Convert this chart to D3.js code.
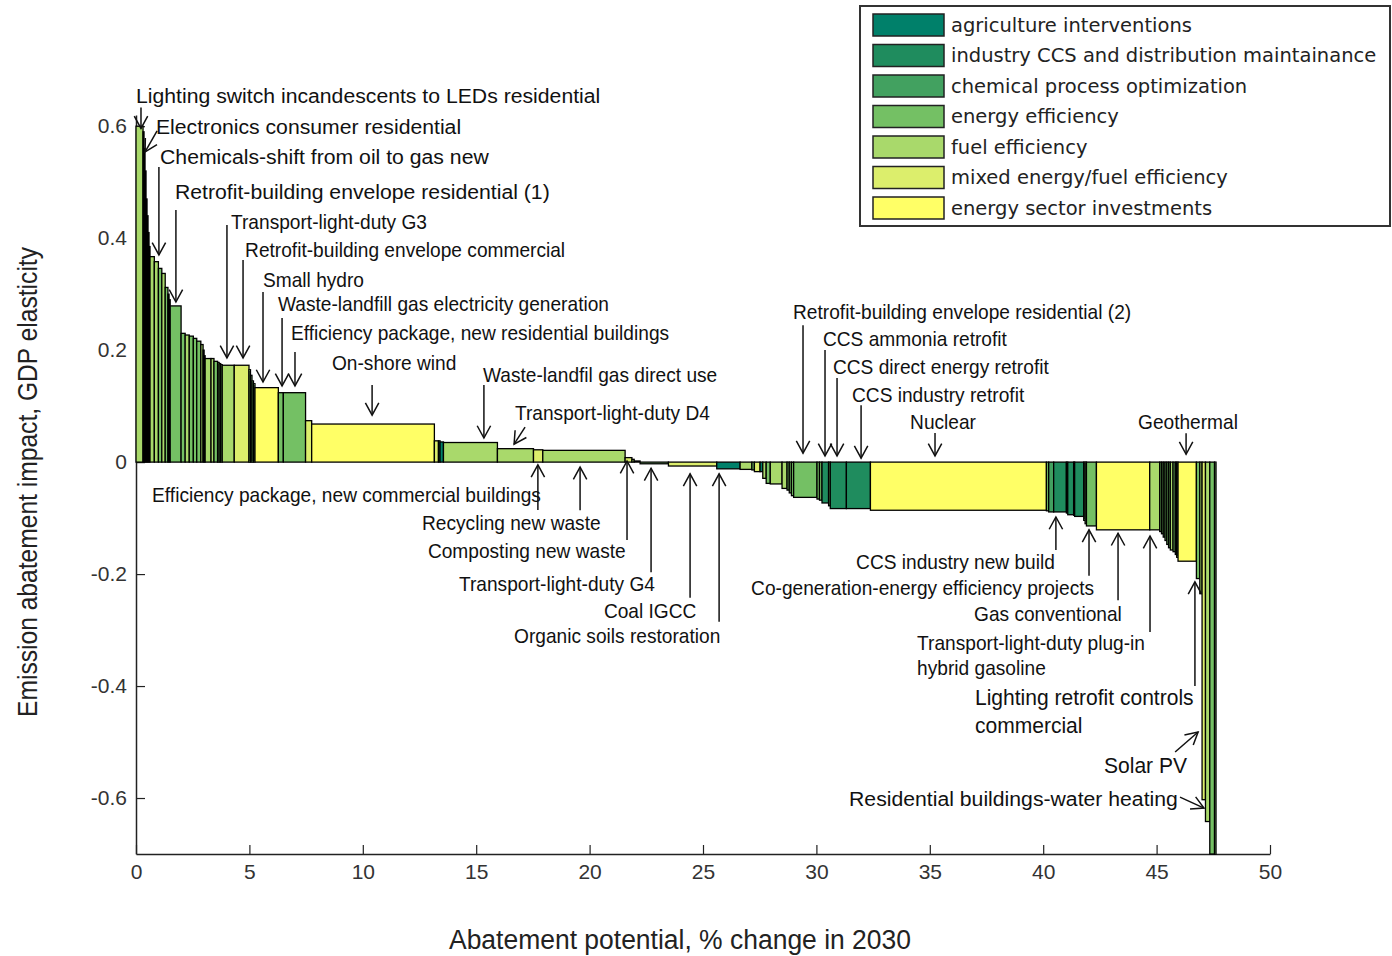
<!DOCTYPE html>
<html>
<head>
<meta charset="utf-8">
<script src="https://cdn.jsdelivr.net/npm/d3@7"></script>
<style>
  body { margin: 0; background: #fff; }
  svg { display: block; }
  .tick text { font-family: "Liberation Sans", Arial, sans-serif; font-size: 21px; fill: #333; }
  .note { font-family: "Liberation Sans", Arial, sans-serif; font-size: 20px; fill: #111; }
  .leg { font-family: "DejaVu Sans", sans-serif; font-size: 19.5px; fill: #222; }
</style>
</head>
<body>
<div id="chart"></div>
<script>
//
// Data
//
var groups = ["agriculture interventions",
              "industry CCS and distribution maintainance",
              "chemical process optimization",
              "energy efficiency",
              "fuel efficiency",
              "mixed energy/fuel efficiency",
              "energy sector investments"];
var groupColors = ["#00806a", "#1f8c5e", "#42a160", "#74c064", "#a9d96b", "#dcee6c", "#ffff66"];

// abatement potential of each measure (% points, bar width)
var widths = [0.31, 0.044, 0.044, 0.044, 0.044, 0.044, 0.044, 0.044,
              0.19, 0.18, 0.15, 0.15, 0.12, 0.05, 0.05, 0.48,
              0.18, 0.18, 0.18, 0.15, 0.18, 0.10, 0.045, 0.045,
              0.26, 0.13, 0.16, 0.068, 0.068, 0.068, 0.53, 0.65,
              0.066, 0.066, 0.066, 0.066, 1.03, 0.22, 0.98, 0.27,
              5.41, 0.18, 0.07, 0.15, 2.38, 1.59, 0.41, 3.63,
              0.30, 0.10, 0.26, 1.25, 2.13, 1.03, 0.52, 0.11,
              0.25, 0.12, 0.15, 0.18, 0.52, 0.22, 0.097, 0.097,
              0.097, 1.03, 0.11, 0.11, 0.29, 0.075, 0.71, 1.06,
              7.76, 0.10, 0.22, 0.56, 0.06, 0.26, 0.045, 0.40,
              0.06, 0.06, 0.44, 2.35, 0.44, 0.078, 0.078, 0.078,
              0.078, 0.078, 0.078, 0.12, 0.10, 0.06, 0.06, 0.81,
              0.15, 0.10, 0.15, 0.19, 0.21, 0.065];

// GDP elasticity of each measure (bar height)
var values = [0.60, 0.59, 0.56, 0.52, 0.47, 0.44, 0.41, 0.385,
              0.367, 0.358, 0.346, 0.337, 0.312, 0.30, 0.29, 0.279,
              0.23, 0.227, 0.225, 0.221, 0.216, 0.21, 0.20, 0.19,
              0.185, 0.185, 0.18, 0.178, 0.176, 0.174, 0.173, 0.173,
              0.165, 0.155, 0.145, 0.14, 0.133, 0.124, 0.124, 0.074,
              0.068, 0.038, 0.038, 0.036, 0.035, 0.024, 0.022, 0.021,
              0.008, 0.005, 0.002, -0.003, -0.007, -0.012, -0.013, -0.014,
              -0.017, -0.017, -0.029, -0.038, -0.039, -0.047, -0.05, -0.055,
              -0.06, -0.063, -0.066, -0.068, -0.073, -0.078, -0.083, -0.083,
              -0.086, -0.087, -0.089, -0.089, -0.091, -0.094, -0.095, -0.097,
              -0.104, -0.11, -0.114, -0.121, -0.121, -0.124, -0.128, -0.134,
              -0.14, -0.147, -0.153, -0.157, -0.16, -0.165, -0.17, -0.177,
              -0.208, -0.235, -0.603, -0.642, -0.70, -0.70];

// group index of each measure
var barGroups = [4, 3, 3, 3, 3, 3, 3, 3,
                 4, 4, 3, 4, 3, 3, 3, 3,
                 3, 4, 3, 3, 3, 4, 3, 3,
                 4, 4, 3, 3, 3, 3, 4, 5,
                 3, 3, 3, 3, 6, 3, 3, 5,
                 6, 5, 1, 0, 4, 4, 5, 4,
                 5, 4, 5, 3, 5, 0, 4, 3,
                 5, 0, 4, 3, 4, 4, 3, 3,
                 3, 3, 3, 3, 1, 3, 1, 1,
                 6, 3, 2, 1, 3, 1, 3, 1,
                 3, 3, 3, 6, 4, 3, 3, 3,
                 3, 3, 3, 4, 3, 3, 3, 6,
                 3, 4, 5, 4, 3, 3];

var xTicks = [0, 5, 10, 15, 20, 25, 30, 35, 40, 45, 50];
var yTicks = [-0.6, -0.4, -0.2, 0, 0.2, 0.4, 0.6];

// annotations: text lines, text anchor (data units), arrow tip (data units), tail offset (px)
var notes = [
  {t: ["Lighting switch incandescents to LEDs residential"], tx: 0, ty: 0.655, ax: 0.22, ay: 0.596, dx: 0, dy: -21, wide: true},
  {t: ["Electronics consumer residential"], tx: 0.88, ty: 0.600, ax: 0.40, ay: 0.554, dx: 12, dy: -21, wide: true},
  {t: ["Chemicals-shift from oil to gas new"], tx: 1.06, ty: 0.547, ax: 1.01, ay: 0.370, dx: 0, dy: -88, wide: true},
  {t: ["Retrofit-building envelope residential (1)"], tx: 1.72, ty: 0.484, ax: 1.76, ay: 0.286, dx: 0, dy: -92, wide: true},
  {t: ["Transport-light-duty G3"], tx: 4.19, ty: 0.430, ax: 4.01, ay: 0.186, dx: 0, dy: -133},
  {t: ["Retrofit-building envelope commercial"], tx: 4.81, ty: 0.379, ax: 4.72, ay: 0.186, dx: 0, dy: -98},
  {t: ["Small hydro"], tx: 5.60, ty: 0.325, ax: 5.60, ay: 0.143, dx: 0, dy: -90},
  {t: ["Waste-landfill gas electricity generation"], tx: 6.26, ty: 0.282, ax: 6.44, ay: 0.136, dx: 0, dy: -68},
  {t: ["Efficiency package, new residential buildings"], tx: 6.83, ty: 0.231, ax: 7.01, ay: 0.136, dx: 0, dy: -34},
  {t: ["On-shore wind"], tx: 8.64, ty: 0.177, ax: 10.41, ay: 0.084, dx: 0, dy: -30},
  {t: ["Waste-landfil gas direct use"], tx: 15.30, ty: 0.156, ax: 15.34, ay: 0.043, dx: 0, dy: -53},
  {t: ["Transport-light-duty D4"], tx: 16.71, ty: 0.088, ax: 16.67, ay: 0.032, dx: 11, dy: -17},
  {t: ["Retrofit-building envelope residential (2)"], tx: 28.97, ty: 0.268, ax: 29.41, ay: 0.016, dx: 0, dy: -128},
  {t: ["CCS ammonia retrofit"], tx: 30.29, ty: 0.220, ax: 30.38, ay: 0.011, dx: 0, dy: -106},
  {t: ["CCS direct energy retrofit"], tx: 30.73, ty: 0.170, ax: 30.91, ay: 0.011, dx: 0, dy: -78},
  {t: ["CCS industry retrofit"], tx: 31.57, ty: 0.120, ax: 31.97, ay: 0.007, dx: 0, dy: -53},
  {t: ["Nuclear"], tx: 34.13, ty: 0.072, ax: 35.23, ay: 0.011, dx: 0, dy: -23},
  {t: ["Geothermal"], tx: 44.18, ty: 0.072, ax: 46.30, ay: 0.014, dx: 0, dy: -21},
  {t: ["Efficiency package, new commercial buildings"], tx: 0.71, ty: -0.059, ax: 17.72, ay: -0.005, dx: 0, dy: 45},
  {t: ["Recycling new waste"], tx: 12.61, ty: -0.109, ax: 19.58, ay: -0.009, dx: 0, dy: 43},
  {t: ["Composting new waste"], tx: 12.87, ty: -0.159, ax: 21.65, ay: 0.002, dx: 0, dy: 79},
  {t: ["Transport-light-duty G4"], tx: 14.24, ty: -0.218, ax: 22.71, ay: -0.011, dx: 0, dy: 104},
  {t: ["Coal IGCC"], tx: 20.63, ty: -0.266, ax: 24.43, ay: -0.021, dx: 0, dy: 124},
  {t: ["Organic soils restoration"], tx: 16.67, ty: -0.311, ax: 25.71, ay: -0.021, dx: 0, dy: 148},
  {t: ["CCS industry new build"], tx: 31.75, ty: -0.178, ax: 40.56, ay: -0.098, dx: 0, dy: 33},
  {t: ["Co-generation-energy efficiency projects"], tx: 27.12, ty: -0.225, ax: 42.02, ay: -0.121, dx: 0, dy: 46},
  {t: ["Gas conventional"], tx: 36.95, ty: -0.271, ax: 43.30, ay: -0.127, dx: 0, dy: 67},
  {t: ["Transport-light-duty plug-in", "hybrid gasoline"], tx: 34.44, ty: -0.323, ax: 44.71, ay: -0.132, dx: 0, dy: 96},
  {t: ["Lighting retrofit controls", "commercial"], tx: 36.99, ty: -0.421, ax: 46.69, ay: -0.214, dx: 0, dy: 104, big: true},
  {t: ["Solar PV"], tx: 42.68, ty: -0.543, ax: 46.83, ay: -0.482, dx: -23, dy: 20, big: true},
  {t: ["Residential buildings-water heating"], tx: 31.44, ty: -0.600, ax: 47.09, ay: -0.618, dx: -24, dy: -11, wide: true}
];

//
// Layout
//
var W = 1392, H = 956;
var svg = d3.select("#chart").append("svg")
    .attr("width", W)
    .attr("height", H);

var x = d3.scaleLinear().domain([0, 50]).range([136, 1270]);
var y = d3.scaleLinear().domain([-0.7, 0.62]).range([854, 115]);

// axes (drawn first so the bars sit on top, like the original)
var yAxis = d3.axisLeft(y)
    .tickValues(yTicks)
    .tickSizeInner(-9)
    .tickSizeOuter(0)
    .tickPadding(9)
    .tickFormat(function(d) { return d === 0 ? "0" : d.toFixed(1); });

var xAxis = d3.axisBottom(x)
    .tickValues(xTicks)
    .tickSizeInner(-9)
    .tickSizeOuter(0)
    .tickPadding(10)
    .tickFormat(d3.format("d"));

svg.append("g")
    .attr("transform", "translate(" + x(0) + ",0)")
    .call(yAxis);
svg.append("g")
    .attr("transform", "translate(0," + y(-0.7) + ")")
    .call(xAxis);
svg.selectAll(".domain").attr("stroke", "#222").attr("stroke-width", 1.5);
svg.selectAll(".tick line").attr("stroke", "#222").attr("stroke-width", 1.2);

//
// Bars
//
var bars = [];
var cum = 0;
widths.forEach(function(w, i) {
    bars.push({x0: cum, w: w, v: values[i], g: barGroups[i]});
    cum += w;
});

svg.append("g")
    .selectAll("rect")
    .data(bars)
    .enter().append("rect")
    .attr("x", function(d) { return x(d.x0); })
    .attr("width", function(d) { return x(d.x0 + d.w) - x(d.x0); })
    .attr("y", function(d) { return Math.min(y(d.v), y(0)); })
    .attr("height", function(d) { return Math.abs(y(d.v) - y(0)); })
    .attr("fill", function(d) { return groupColors[d.g]; })
    .attr("stroke", "black")
    .attr("stroke-width", 1.3);

//
// Annotations
//
var ann = svg.append("g");

function drawArrow(x1, y1, x2, y2) {
    var a = Math.atan2(y2 - y1, x2 - x1),
        len = 14, spread = 0.5;
    ann.append("line")
        .attr("x1", x1).attr("y1", y1)
        .attr("x2", x2).attr("y2", y2)
        .attr("stroke", "#111").attr("stroke-width", 1.5);
    ann.append("path")
        .attr("d", "M" + (x2 - len * Math.cos(a - spread)) + "," + (y2 - len * Math.sin(a - spread)) +
                   "L" + x2 + "," + y2 +
                   "L" + (x2 - len * Math.cos(a + spread)) + "," + (y2 - len * Math.sin(a + spread)))
        .attr("fill", "none")
        .attr("stroke", "#111").attr("stroke-width", 1.5);
}

notes.forEach(function(n) {
    // the original labels use a slightly condensed face; the top few are wider
    var sx = n.wide ? 1.01 : 0.957,
        fs = n.big ? 22 : (n.wide ? 21 : 20);
    var t = ann.append("text")
        .attr("class", "note")
        .attr("transform", "translate(" + x(n.tx) + "," + y(n.ty) + ") scale(" + sx + ",1)")
        .attr("dominant-baseline", "central")
        .style("font-size", fs + "px");
    n.t.forEach(function(line, i) {
        t.append("tspan")
            .attr("x", 0)
            .attr("dy", i === 0 ? 0 : (n.big ? 28 : 25))
            .text(line);
    });
    var tipX = x(n.ax), tipY = y(n.ay);
    drawArrow(tipX + n.dx, tipY + n.dy, tipX, tipY);
});

//
// Axis titles
//
svg.append("text")
    .attr("x", 680).attr("y", 940)
    .attr("text-anchor", "middle")
    .attr("dominant-baseline", "central")
    .attr("textLength", 462)
    .attr("lengthAdjust", "spacingAndGlyphs")
    .style("font-family", "'Liberation Sans Narrow', 'Liberation Sans', Arial, sans-serif")
    .style("font-size", "27px")
    .style("fill", "#222")
    .text("Abatement potential, % change in 2030");

svg.append("text")
    .attr("transform", "translate(28,482) rotate(-90)")
    .attr("text-anchor", "middle")
    .attr("dominant-baseline", "central")
    .attr("textLength", 470)
    .attr("lengthAdjust", "spacingAndGlyphs")
    .style("font-family", "'Liberation Sans Narrow', 'Liberation Sans', Arial, sans-serif")
    .style("font-size", "27px")
    .style("fill", "#222")
    .text("Emission abatement impact, GDP elasticity");

//
// Legend
//
var legend = svg.append("g");
legend.append("rect")
    .attr("x", 860).attr("y", 6)
    .attr("width", 530).attr("height", 220)
    .attr("fill", "white")
    .attr("stroke", "#333").attr("stroke-width", 2);

var item = legend.selectAll("g.item")
    .data(groups)
    .enter().append("g")
    .attr("class", "item")
    .attr("transform", function(d, i) { return "translate(0," + (25 + i * 30.5) + ")"; });

item.append("rect")
    .attr("x", 873).attr("y", -11)
    .attr("width", 71).attr("height", 22)
    .attr("fill", function(d, i) { return groupColors[i]; })
    .attr("stroke", "#222").attr("stroke-width", 1.5);

item.append("text")
    .attr("class", "leg")
    .attr("x", 951).attr("y", 0)
    .attr("dominant-baseline", "central")
    .text(function(d) { return d; });
</script>
</body>
</html>
